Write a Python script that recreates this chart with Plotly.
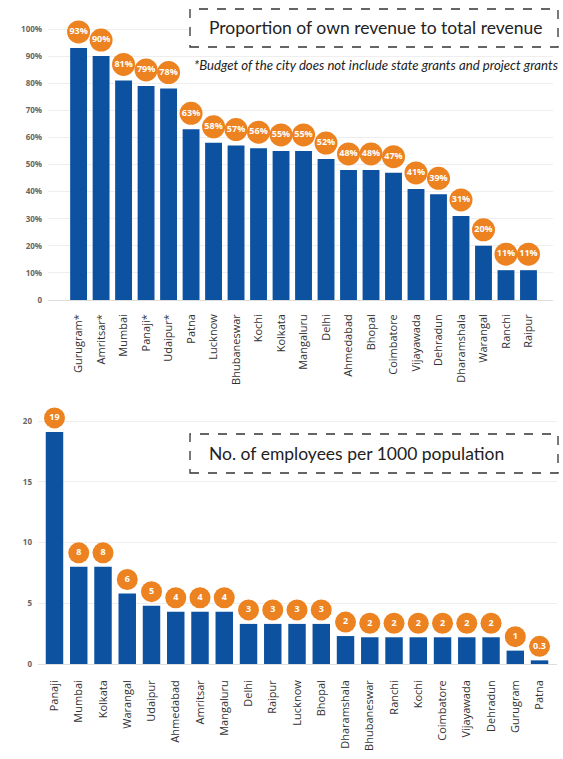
import plotly.graph_objects as go

W, H = 563, 759

# ---- Data ----
rev_cities = ["Gurugram*", "Amritsar*", "Mumbai", "Panaji*", "Udaipur*", "Patna", "Lucknow",
              "Bhubaneswar", "Kochi", "Kolkata", "Mangaluru", "Delhi", "Ahmedabad", "Bhopal",
              "Coimbatore", "Vijayawada", "Dehradun", "Dharamshala", "Warangal", "Ranchi", "Raipur"]
rev_values = [93, 90, 81, 79, 78, 63, 58, 57, 56, 55, 55, 52, 48, 48, 47, 41, 39, 31, 20, 11, 11]
rev_labels = [f"{v}%" for v in rev_values]
rev_ticks = [0, 10, 20, 30, 40, 50, 60, 70, 80, 90, 100]
rev_ticktext = ["0", "10%", "20%", "30%", "40%", "50%", "60%", "70%", "80%", "90%", "100%"]

emp_cities = ["Panaji", "Mumbai", "Kolkata", "Warangal", "Udaipur", "Ahmedabad", "Amritsar",
              "Mangaluru", "Delhi", "Raipur", "Lucknow", "Bhopal", "Dharamshala", "Bhubaneswar",
              "Ranchi", "Kochi", "Coimbatore", "Vijayawada", "Dehradun", "Gurugram", "Patna"]
emp_values = [19.1, 8.0, 8.0, 5.8, 4.8, 4.3, 4.3, 4.3, 3.3, 3.3, 3.3, 3.3, 2.3, 2.2, 2.2, 2.2,
              2.2, 2.2, 2.2, 1.1, 0.3]
emp_labels = ["19", "8", "8", "6", "5", "4", "4", "4", "3", "3", "3", "3", "2", "2", "2", "2",
              "2", "2", "2", "1", "0.3"]
emp_ticks = [0, 5, 10, 15, 20]

BLUE = "#0C52A0"
ORANGE = "#EC8220"
FONT = "Open Sans"


def px_x(p):
    return p / W


def px_y(p):
    return 1 - p / H


# pixel geometry of plot areas
top_y0, top_y1 = 300, 29     # pixel rows for 0 and 100
bot_y0, bot_y1 = 664, 421    # pixel rows for 0 and 20
top_scale = (top_y0 - top_y1) / 100.0
bot_scale = (bot_y0 - bot_y1) / 20.0
top_max = 104
bot_max = 21.5

fig = go.Figure()

fig.add_trace(go.Bar(x=rev_cities, y=rev_values, marker_color=BLUE, width=0.75,
                     marker_line_width=0, xaxis="x", yaxis="y", hoverinfo="x+y"))
fig.add_trace(go.Scatter(x=rev_cities, y=[v + 16 / top_scale for v in rev_values],
                         mode="markers+text", text=rev_labels, textposition="middle center",
                         textfont=dict(family=FONT, size=9, color="white", weight="bold"),
                         marker=dict(size=23, color=ORANGE, line=dict(width=0)),
                         cliponaxis=False, xaxis="x", yaxis="y", hoverinfo="skip"))

fig.add_trace(go.Bar(x=emp_cities, y=emp_values, marker_color=BLUE, width=0.72,
                     marker_line_width=0, xaxis="x2", yaxis="y2", hoverinfo="x+y"))
fig.add_trace(go.Scatter(x=emp_cities, y=[v + 14 / bot_scale for v in emp_values],
                         mode="markers+text", text=emp_labels, textposition="middle center",
                         textfont=dict(family=FONT, size=9, color="white", weight="bold"),
                         marker=dict(size=21, color=ORANGE, line=dict(width=0)),
                         cliponaxis=False, xaxis="x2", yaxis="y2", hoverinfo="skip"))

tickfont_x = dict(family=FONT, size=11, color="#333333")
tickfont_y = dict(family=FONT, size=8, color="#666666", weight="bold")

fig.update_layout(
    width=W, height=H,
    margin=dict(l=0, r=0, t=0, b=0, autoexpand=False),
    paper_bgcolor="white", plot_bgcolor="white",
    showlegend=False,
    xaxis=dict(domain=[px_x(48), px_x(553)], anchor="y", type="category",
               range=[-1.36, 21.09], tickangle=-90, tickfont=tickfont_x, automargin=False,
               showgrid=False, showline=False, ticks="", ticklabelstandoff=11),
    yaxis=dict(domain=[px_y(top_y0), px_y(top_y0 - top_max * top_scale)], anchor="x",
               range=[0, top_max],
               tickvals=rev_ticks, ticktext=rev_ticktext, tickfont=tickfont_y,
               showgrid=True, gridcolor="#EEEEEE", gridwidth=1, automargin=False,
               zeroline=True, zerolinecolor="#DDDDDD", zerolinewidth=1,
               ticks="", ticklabelstandoff=5),
    xaxis2=dict(domain=[px_x(38), px_x(557)], anchor="y2", type="category",
                range=[-0.68, 20.72], tickangle=-90, tickfont=tickfont_x, automargin=False,
                showgrid=False, showline=False, ticks="", ticklabelstandoff=13),
    yaxis2=dict(domain=[px_y(bot_y0), px_y(bot_y0 - bot_max * bot_scale)], anchor="x2",
                range=[0, bot_max],
                tickvals=emp_ticks, tickfont=tickfont_y, automargin=False,
                showgrid=True, gridcolor="#EEEEEE", gridwidth=1,
                zeroline=True, zerolinecolor="#DDDDDD", zerolinewidth=1,
                ticks="", ticklabelstandoff=5),
)

# title boxes
box_line = dict(color="#333333", width=1.3, dash="dash")
fig.add_shape(type="rect", xref="paper", yref="paper",
              x0=px_x(190), x1=px_x(558), y0=px_y(47), y1=px_y(9), line=box_line,
              fillcolor="white", layer="above")
fig.add_shape(type="rect", xref="paper", yref="paper",
              x0=px_x(190), x1=px_x(558), y0=px_y(473), y1=px_y(434), line=box_line,
              fillcolor="white", layer="above")

fig.add_annotation(xref="paper", yref="paper", x=px_x(376), y=px_y(28),
                   text="Proportion of own revenue to total revenue", showarrow=False,
                   font=dict(family="Lato", size=17.5, color="#222222"),
                   xanchor="center", yanchor="middle")
fig.add_annotation(xref="paper", yref="paper", x=px_x(376), y=px_y(65),
                   text="<i>*Budget of the city does not include state grants and project grants</i>",
                   showarrow=False, font=dict(family="Lato", size=13.2, color="#222222"),
                   xanchor="center", yanchor="middle")
fig.add_annotation(xref="paper", yref="paper", x=px_x(356), y=px_y(453),
                   text="No. of employees per 1000 population", showarrow=False,
                   font=dict(family="Lato", size=17.5, color="#222222"),
                   xanchor="center", yanchor="middle")

fig.write_html("out.html", config={"displayModeBar": False},
               post_script="document.body.style.margin='0';document.body.style.padding='0';")
